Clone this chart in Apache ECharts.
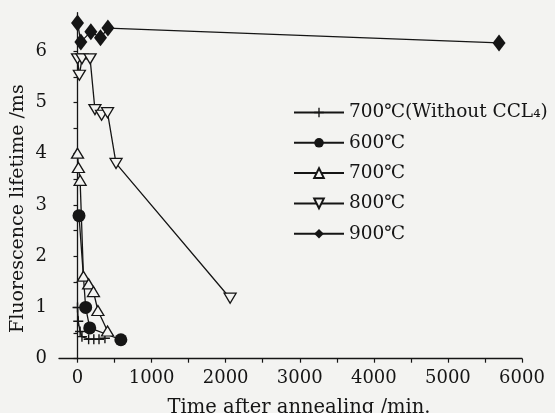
<!DOCTYPE html>
<html><head><meta charset="utf-8">
<script src="https://cdn.jsdelivr.net/npm/echarts@6/dist/echarts.min.js"></script>
<style>html,body{margin:0;padding:0;background:#f3f3f1}#c{width:555px;height:413px}</style>
</head><body><div id="c"></div>
<script>
// ---- data ----
const seriesNames = ['700℃(Without CCL₄)', '600℃', '700℃', '800℃', '900℃'];
const timeNoCCl4 = [0, 10, 35, 60, 150, 220, 290, 370];
const lifeNoCCl4 = [1.00, 0.73, 0.53, 0.43, 0.38, 0.38, 0.38, 0.40];
const time600 = [20, 110, 165, 585];
const life600 = [2.79, 1.00, 0.60, 0.37];
const time700 = [0, 12, 35, 80, 150, 215, 275, 405];
const life700 = [4.01, 3.73, 3.48, 1.61, 1.46, 1.31, 0.94, 0.54];
const time800 = [0, 25, 60, 170, 235, 325, 405, 520, 2060];
const life800 = [5.85, 5.53, 5.85, 5.85, 4.86, 4.75, 4.80, 3.81, 1.18];
const time900 = [0, 45, 180, 310, 410, 5690];
const life900 = [6.55, 6.18, 6.38, 6.26, 6.45, 6.16];
const xTicks = [0, 1000, 2000, 3000, 4000, 5000, 6000];
const yTicks = [0, 1, 2, 3, 4, 5, 6];

const pair = (xs, ys) => xs.map((x, i) => [x, ys[i]]);
const BG = '#f3f3f1', INK = '#151515';
const FONT = '"DejaVu Serif", "Liberation Serif", serif';
const crossPath = 'path://M8.6,0H11.4V20H8.6ZM0,8.6H20V11.4H0Z';

function mk(name, data, symbol, size, fill, rotate) {
  return {
    name, type: 'line', data, xAxisIndex: 0, yAxisIndex: 0,
    symbol, symbolSize: size, symbolRotate: rotate || 0,
    lineStyle: { color: INK, width: 1.3 },
    itemStyle: { color: fill, borderColor: INK, borderWidth: fill === INK ? 0 : 1.3 },
    emphasis: { disabled: true }, animation: false, z: 3
  };
}

const chart = echarts.init(document.getElementById('c'), null, { renderer: 'canvas' });
chart.setOption({
  backgroundColor: BG,
  animation: false,
  textStyle: { fontFamily: FONT, color: INK },
  grid: [
    { left: 59, right: 33, top: 12.7, bottom: 54.3, containLabel: false, outerBoundsMode: 'none' },
    { left: 77.5, right: 33, top: 25.5, bottom: 54.3, containLabel: false, outerBoundsMode: 'none' }
  ],
  xAxis: [
    { type: 'value', gridIndex: 0, min: -250, max: 6000,
      axisLine: { lineStyle: { color: INK, width: 1.3 } },
      axisTick: { show: false }, axisLabel: { show: false }, splitLine: { show: false },
      name: 'Time after annealing /min.', nameLocation: 'middle', nameGap: 39,
      nameTextStyle: { fontFamily: FONT, fontSize: 19.5, color: INK, padding: [0, 0, 0, 17] } },
    { type: 'value', gridIndex: 1, min: 0, max: 6000, interval: 500,
      axisLine: { show: false },
      axisTick: { show: true, length: 4, lineStyle: { color: INK, width: 1.2 } },
      axisLabel: { fontFamily: FONT, fontSize: 18, color: INK, margin: 11,
        formatter: v => xTicks.includes(v) ? String(v) : '' },
      splitLine: { show: false } }
  ],
  yAxis: [
    { type: 'value', gridIndex: 0, min: 0, max: 6.75,
      axisLine: { show: true, lineStyle: { color: INK, width: 1.3 } },
      axisTick: { show: false }, axisLabel: { show: false }, splitLine: { show: false },
      name: 'Fluorescence lifetime /ms', nameLocation: 'middle', nameGap: 31, nameRotate: 90,
      nameTextStyle: { fontFamily: FONT, fontSize: 19, color: INK, padding: [0, 46, 0, 0] } },
    { type: 'value', gridIndex: 1, min: 0, max: 6.5, interval: 0.5, offset: 18.5,
      axisLine: { show: false },
      axisTick: { show: true, length: 4, lineStyle: { color: INK, width: 1.2 } },
      axisLabel: { fontFamily: FONT, fontSize: 18, color: INK, margin: 12,
        formatter: v => yTicks.includes(v) ? String(v) : '' },
      splitLine: { show: false } }
  ],
  legend: {
    orient: 'vertical', left: 293, top: 103, padding: 0,
    itemWidth: 50, itemHeight: 12, itemGap: 11.3,
    data: seriesNames,
    textStyle: { fontFamily: FONT, fontSize: 18.5, color: INK }
  },
  series: [
    mk(seriesNames[0], pair(timeNoCCl4, lifeNoCCl4), crossPath, 10, INK),
    mk(seriesNames[1], pair(time600, life600), 'circle', 13, INK),
    mk(seriesNames[2], pair(time700, life700), 'triangle', [12, 10], BG),
    mk(seriesNames[3], pair(time800, life800), 'triangle', [12, 10], BG, 180),
    mk(seriesNames[4], pair(time900, life900), 'diamond', [13, 17], INK)
  ]
});
</script></body></html>
